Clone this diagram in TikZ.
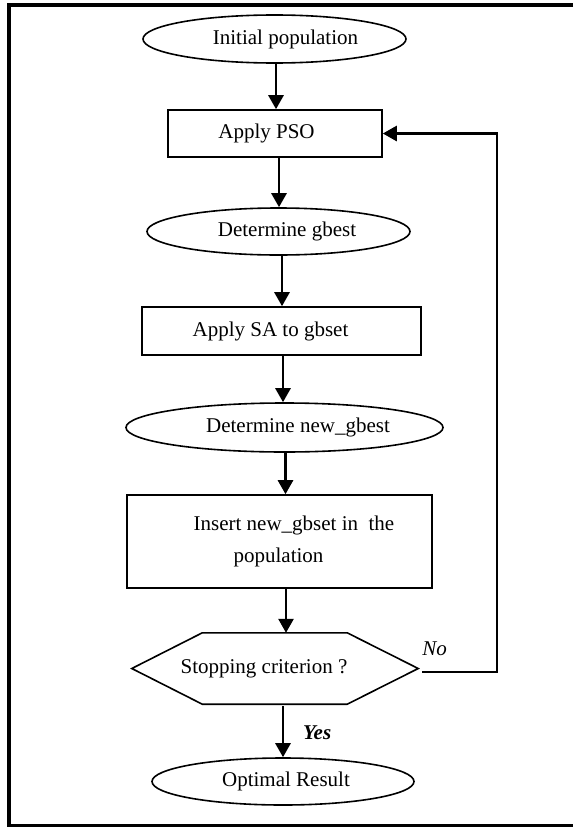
\documentclass[tikz,border=0pt]{standalone}
\usepackage{fontspec}
\setmainfont{Liberation Serif}
\usetikzlibrary{shapes.geometric,arrows.meta,calc}
\newcommand\tsh[2]{\makebox[0pt]{\hspace*{#1}#2}}
\begin{document}
\begin{tikzpicture}[x=1pt,y=-1pt,
  font=\fontsize{21}{25}\selectfont,
  box/.style={draw, line width=1.6pt, rectangle, inner sep=0pt},
  oval/.style={draw, line width=1.6pt, ellipse, inner sep=0pt},
  arr/.style={line width=2.7pt, -{Triangle[length=14pt,width=15pt]}},
  ]
\useasboundingbox (0,0) rectangle (573,827);
\draw[line width=3.6pt] (573,5) -- (8.7,5) -- (8.7,825.5) -- (573,825.5);

\node[oval, minimum width=263, minimum height=48] (init) at (274.5,39) {\tsh{22pt}{Initial population}};
\node[box, minimum width=214, minimum height=47] (pso) at (275,133.5) {\tsh{-17pt}{Apply PSO}};
\node[oval, minimum width=263, minimum height=47] (gb) at (278.5,231.5) {\tsh{17pt}{Determine gbest}};
\node[box, minimum width=279, minimum height=48] (sa) at (281.5,331) {\tsh{-22pt}{Apply SA to gbset}};
\node[oval, minimum width=317, minimum height=49] (ngb) at (284.5,427.5) {\tsh{27pt}{Determine new\_gbest}};
\node[box, minimum width=305, minimum height=93, align=center] (ins) at (279.5,541.5) {\tsh{29pt}{Insert new\_gbset in\ \ the}\\[7pt]\tsh{-2pt}{population}};
\node[inner sep=0pt, minimum width=286, minimum height=71] (hex) at (275,668.5) {\raisebox{-4pt}{\tsh{-22pt}{Stopping criterion ?}}};
\draw[line width=1.6pt] (hex.west) -- ([xshift=70.5pt]hex.north west) -- ([xshift=-71pt]hex.north east) -- (hex.east) -- ([xshift=-71pt]hex.south east) -- ([xshift=70.5pt]hex.south west) -- cycle;
\node[oval, minimum width=262, minimum height=47] (opt) at (283,781.5) {\tsh{6pt}{Optimal Result}};

\node[font=\fontsize{21}{25}\selectfont\bfseries\itshape, anchor=west, inner sep=0pt] (yes) at (303,733) {Yes};
\node[font=\fontsize{21}{25}\selectfont\itshape, inner sep=0pt] (no) at (434.5,649) {No};

\draw[arr] (init.south -| 276,0) -- (pso.north -| 276,0);
\draw[arr] (pso.south -| 279,0) -- (gb.north -| 279,0);
\draw[arr] (gb.south -| 282,0) -- (sa.north -| 282,0);
\draw[arr] (sa.south -| 283,0) -- (ngb.north -| 283,0);
\draw[arr] (ngb.south -| 285.5,0) -- (ins.north -| 285.5,0);
\draw[arr] (ins.south -| 286,0) -- (hex.north -| 286,0);
\draw[arr] ([yshift=-2pt]hex.south -| 283,0) -- (opt.north -| 283,0);
\coordinate (c2) at (497,133.5);
\draw[arr] ($(hex.east)+(4,3.5)$) -| (c2) -- (pso.east);
\end{tikzpicture}
\end{document}
